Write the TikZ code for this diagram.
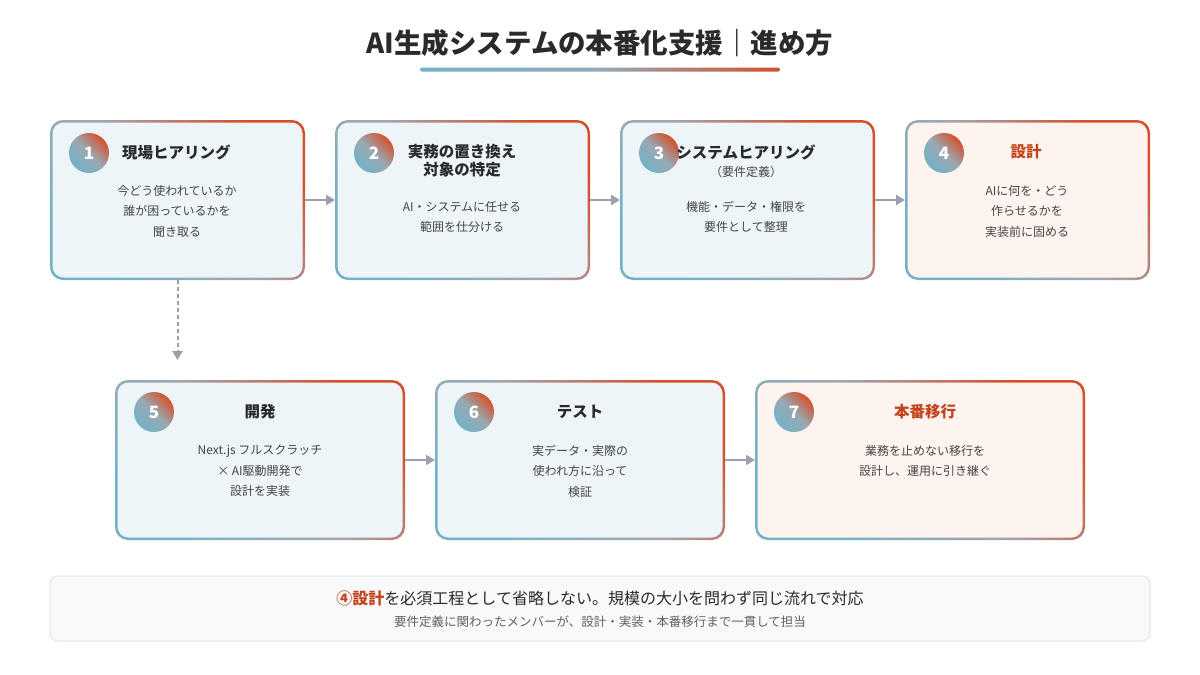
\documentclass[tikz,border=0pt]{standalone}
\usepackage{fontspec}
\setmainfont{Noto Sans CJK JP}
\usetikzlibrary{arrows.meta,calc}
\definecolor{accor}{HTML}{D4502A}
\definecolor{accbl}{HTML}{72B2C6}
\definecolor{accgr}{HTML}{A3A6AE}
\definecolor{fillbl}{HTML}{EEF5F9}
\definecolor{fillor}{HTML}{FDF3EF}
\definecolor{txtdark}{HTML}{2A2A2A}
\definecolor{txtbody}{HTML}{444444}
\definecolor{titleor}{HTML}{C4431C}
\definecolor{arrowgr}{HTML}{9CA0AE}
\definecolor{notefill}{HTML}{F7F9FB}
\definecolor{noteline}{HTML}{E2E5E9}
\tikzset{
  boxframe/.style={inner sep=0pt, outer sep=0pt},
  numcirc/.style={circle, minimum size=40pt, inner sep=0pt, text=white,
    font=\fontsize{17}{19}\selectfont\bfseries},
  ttl/.style={text=txtdark, font=\fontsize{15.5}{18.5}\selectfont\bfseries, inner sep=0pt},
  ttlor/.style={text=titleor, font=\fontsize{15.5}{18.5}\selectfont\bfseries, inner sep=0pt},
  bodytxt/.style={text=txtbody, align=center, inner sep=0pt,
    font=\fontsize{12}{20.5}\selectfont},
  flow/.style={draw=arrowgr, line width=2pt, -{Triangle[length=9pt,width=10pt]}},
}
\newcommand\mkcard[6]{% name, cx, cy, w, h, fill
  \node[boxframe, minimum width=#4pt, minimum height=#5pt] (#1) at (#2,#3) {};
  \shade[rounded corners=13pt, top color=accor, bottom color=accbl, middle color=accgr, shading angle=-45]
    (#1.south west) rectangle (#1.north east);
  \fill[#6, rounded corners=11pt] ([shift={(2.5pt,2.5pt)}]#1.south west) rectangle ([shift={(-2.5pt,-2.5pt)}]#1.north east);
}
\newcommand\mkcirc[4]{% name, x, y, number
  \shade[top color=accor, bottom color=accbl, middle color=accgr!80!accbl, shading angle=-45] (#2,#3) circle (20pt);
  \node[numcirc] (#1) at (#2,#3) {#4};
}
\begin{document}
\begin{tikzpicture}[x=1pt,y=-1pt]
\useasboundingbox (0,0) rectangle (1200,675);
\fill[white] (0,0) rectangle (1200,675);

% title
\node[text=txtdark, font=\fontsize{27.5}{31}\selectfont\bfseries, inner sep=0pt] (title) at (600,43) {AI生成システムの本番化支援｜進め方};
\shade[left color=accbl, right color=accor, middle color=accgr!70!accbl, rounded corners=2pt] (420,67.5) rectangle (780,71.5);

% row 1 cards
\mkcard{b1}{177.5}{200}{255}{160}{fillbl}
\mkcard{b2}{462.5}{200}{255}{160}{fillbl}
\mkcard{b3}{747.5}{200}{255}{160}{fillbl}
\mkcard{b4}{1027.5}{200}{245}{160}{fillor}
% row 2 cards
\mkcard{b5}{260}{460}{290}{160}{fillbl}
\mkcard{b6}{580}{460}{290}{160}{fillbl}
\mkcard{b7}{920}{460}{330}{160}{fillor}

% circles
\mkcirc{c1}{89}{153}{1}
\mkcirc{c2}{374}{153}{2}
\mkcirc{c3}{659}{153}{3}
\mkcirc{c4}{944}{153}{4}
\mkcirc{c5}{154}{412}{5}
\mkcirc{c6}{474}{412}{6}
\mkcirc{c7}{794}{412}{7}

% titles
\node[ttl, anchor=west] (t1) at (122,152) {現場ヒアリング};
\node[ttl, align=center, font=\fontsize{15.5}{18}\selectfont\bfseries] (t2) at (462,161) {実務の置き換え\\対象の特定};
\node[ttl] (t3) at (746,152) {システムヒアリング};
\node[bodytxt] (t3b) at (746,172) {（要件定義）};
\node[ttlor] (t4) at (1026,152) {設計};
\node[ttl] (t5) at (260,412) {開発};
\node[ttl] (t6) at (580,412) {テスト};
\node[ttlor] (t7) at (925,412) {本番移行};

% bodies
\node[bodytxt] (d1) at (177,211) {今どう使われているか\\誰が困っているかを\\聞き取る};
\node[bodytxt] (d2) at (462,217) {AI・システムに任せる\\範囲を仕分ける};
\node[bodytxt] (d3) at (746,217) {機能・データ・権限を\\要件として整理};
\node[bodytxt] (d4) at (1027,211) {AIに何を・どう\\作らせるかを\\実装前に固める};
\node[bodytxt] (d5) at (260,471) {Next.js フルスクラッチ\\× AI駆動開発で\\設計を実装};
\node[bodytxt] (d6) at (580,471) {実データ・実際の\\使われ方に沿って\\検証};
\node[bodytxt] (d7) at (925,461) {業務を止めない移行を\\設計し、運用に引き継ぐ};

% connectors
\draw[flow] (b1.east) -- (b2.west);
\draw[flow] (b2.east) -- (b3.west);
\draw[flow] (b3.east) -- (b4.west);
\draw[flow] (b5.east) -- (b6.west);
\draw[flow] (b6.east) -- (b7.west);
\coordinate (down) at (177.5,360);
\draw[flow, dash pattern=on 4pt off 3pt] (b1.south) -- (down);

% note
\node[draw=noteline, line width=1pt, fill=notefill, rounded corners=8pt, minimum width=1100pt, minimum height=65pt, inner sep=0pt] (note) at (600,608.5) {};
\node[inner sep=0pt, text=txtdark, font=\fontsize{16}{19}\selectfont] (n1) at (600,598) {{\color{titleor}\bfseries ④設計}を必須工程として省略しない。規模の大小を問わず同じ流れで対応};
\node[inner sep=0pt, text=txtbody!85!white, font=\fontsize{12.5}{15}\selectfont] (n2) at (600,622) {要件定義に関わったメンバーが、設計・実装・本番移行まで一貫して担当};
\end{tikzpicture}
\end{document}
